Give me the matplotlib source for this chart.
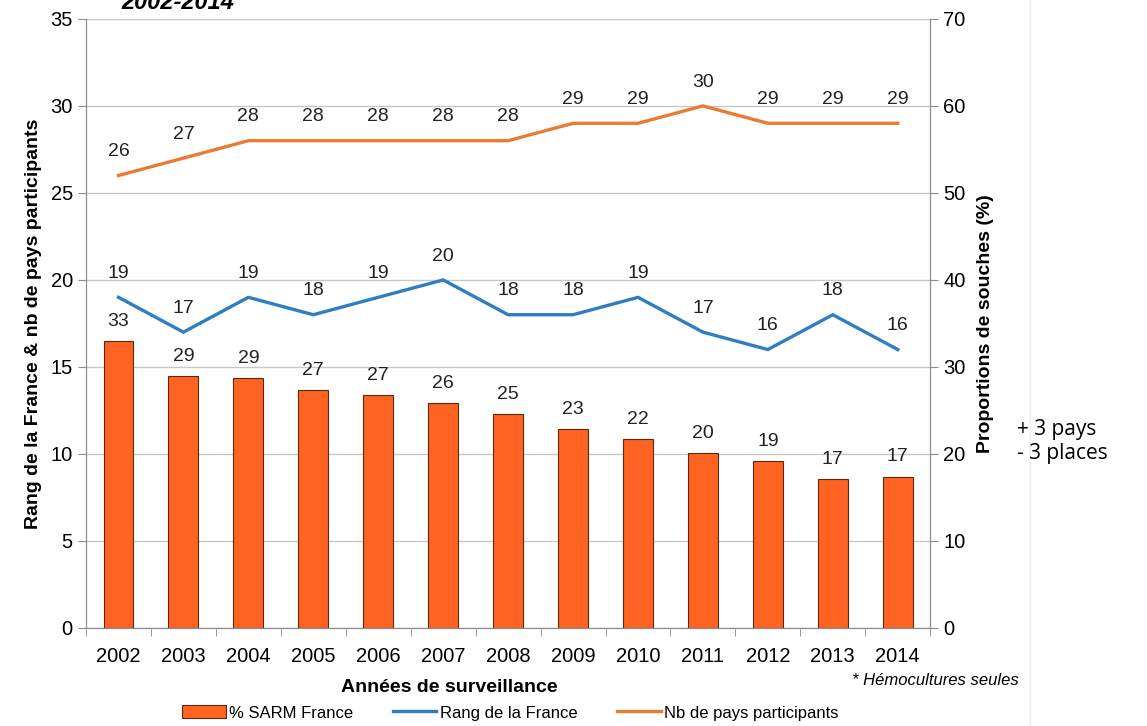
import matplotlib
matplotlib.use('Agg')
import matplotlib.pyplot as plt
import numpy as np

plt.rcParams["font.family"] = ["Liberation Sans", "DejaVu Sans"]

# données
annees = ["2002", "2003", "2004", "2005", "2006", "2007", "2008",
          "2009", "2010", "2011", "2012", "2013", "2014"]
sarm_pct = [33.0, 29.0, 28.7, 27.3, 26.8, 25.9, 24.6, 22.9, 21.7, 20.1, 19.2, 17.1, 17.4]
rang_france = [19, 17, 19, 18, 19, 20, 18, 18, 19, 17, 16, 18, 16]
nb_pays = [26, 27, 28, 28, 28, 28, 28, 29, 29, 30, 29, 29, 29]

c_bar = "#FF6321"
c_rang = "#2F7DC2"
c_pays = "#EC7A30"
c_axe = "#8C8C8C"

fig = plt.figure(figsize=(11.47, 7.26), dpi=100)
ax = fig.add_axes([0.075, 0.135, 0.736, 0.839])
ax2 = ax.twinx()

x = np.arange(len(annees))

# barres sur l'axe de droite
ax2.bar(x, sarm_pct, width=0.46, color=c_bar, edgecolor="#5A2A10", linewidth=0.8,
        label="% SARM France", zorder=2)
for xi, v in zip(x, sarm_pct):
    ax2.annotate(f"{v:.0f}", (xi, v), xytext=(0, 8), textcoords="offset points",
                 ha="center", va="bottom", fontsize=14, color="#222222")

ax2.set_ylim(0, 70)
ax2.set_yticks(range(0, 71, 10))
ax2.set_ylabel("Proportions de souches (%)", fontsize=14, fontweight="bold", labelpad=8)

# courbes sur l'axe de gauche (au-dessus des barres)
ax.set_zorder(ax2.get_zorder() + 1)
ax.patch.set_visible(False)
ax.plot(x, rang_france, color=c_rang, lw=2.4, label="Rang de la France", zorder=3)
ax.plot(x, nb_pays, color=c_pays, lw=2.4, label="Nb de pays participants", zorder=3)
for xi, v in zip(x, rang_france):
    ax.annotate(str(v), (xi, v), xytext=(0, 11), textcoords="offset points",
                ha="center", va="bottom", fontsize=14, color="#222222")
for xi, v in zip(x, nb_pays):
    ax.annotate(str(v), (xi, v), xytext=(0, 11), textcoords="offset points",
                ha="center", va="bottom", fontsize=14, color="#222222")

ax.set_ylim(0, 35)
ax.set_yticks(range(0, 36, 5))
ax.set_xlim(-0.5, len(annees) - 0.5)
ax.set_xticks(x)
ax.set_xticklabels(annees)
ax.set_xticks(np.arange(-0.5, len(annees), 1), minor=True)
ax.tick_params(axis="x", which="major", length=0, pad=14, labelsize=14.5)
ax.tick_params(axis="x", which="minor", length=6, color=c_axe)
ax.tick_params(axis="y", labelsize=14.5, length=6, color=c_axe)
ax2.tick_params(axis="y", labelsize=14.5, length=6, color=c_axe)
ax.set_ylabel("Rang de la France & nb de pays participants", fontsize=14,
              fontweight="bold", labelpad=6)
ax.set_xlabel("Années de surveillance", fontsize=14, fontweight="bold")
ax.xaxis.set_label_coords(0.43, -0.084)

# grille
ax2.grid(axis="y", color="#C8C8C8", lw=1, zorder=0)
ax2.set_axisbelow(True)

for a in (ax, ax2):
    for s in a.spines.values():
        s.set_color(c_axe)
    a.spines["top"].set_visible(False)

# légende
h1, l1 = ax2.get_legend_handles_labels()
h2, l2 = ax.get_legend_handles_labels()
fig.legend(h1 + h2, l1 + l2, loc="center", bbox_to_anchor=(0.445, 0.018), ncol=3,
           frameon=False, fontsize=12, handlelength=2.6, handleheight=0.8,
           columnspacing=2.4, handletextpad=0.2)

fig.text(0.155, 0.997, "2002-2014", fontsize=17, fontweight="bold", style="italic",
         ha="center", va="center")
fig.text(0.888, 0.063, "* Hémocultures seules", fontsize=12, style="italic",
         ha="right", va="center")
fig.text(0.887, 0.392, "+ 3 pays\n- 3 places", fontsize=15, ha="left", va="center",
         family="Open Sans", linespacing=1.2)
fig.add_artist(plt.Line2D([0.898, 0.898], [0, 1], color="#EEEEEE", lw=1))

fig.savefig("out.png", dpi=100)
